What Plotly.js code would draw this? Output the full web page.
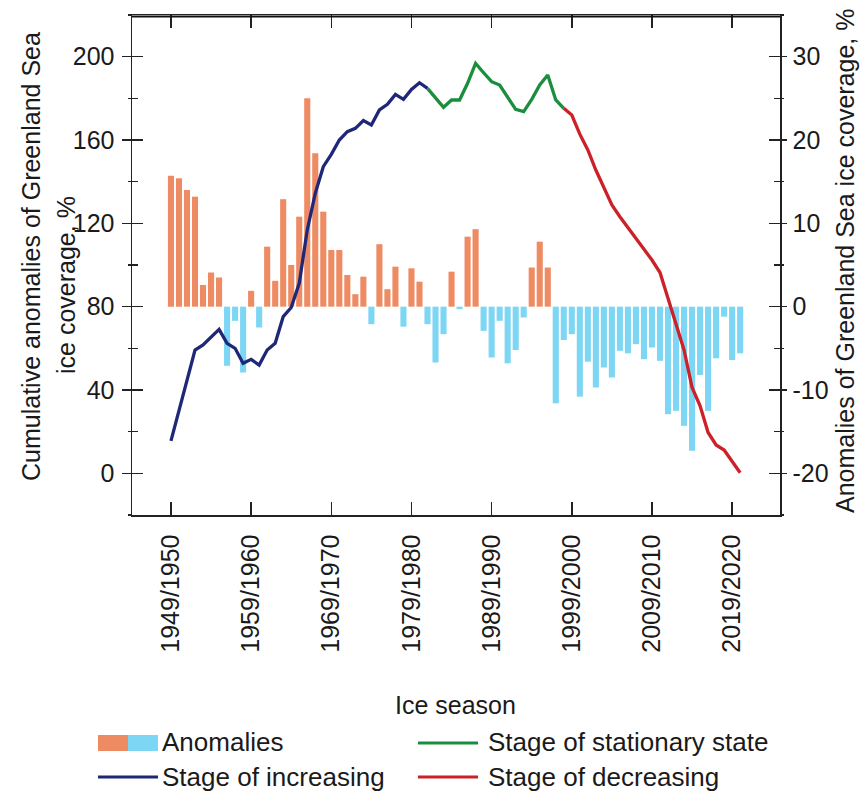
<!DOCTYPE html>
<html>
<head>
<meta charset="utf-8">
<script src="https://cdn.plot.ly/plotly-3.0.1.min.js"></script>
<style>html,body{margin:0;padding:0;background:#fff;}#chart{width:862px;height:796px;}</style>
</head>
<body>
<div id="chart"></div>
<script>
// Ice seasons
const seasons = [
 "1949/1950","1950/1951","1951/1952","1952/1953","1953/1954","1954/1955","1955/1956","1956/1957","1957/1958","1958/1959",
 "1959/1960","1960/1961","1961/1962","1962/1963","1963/1964","1964/1965","1965/1966","1966/1967","1967/1968","1968/1969",
 "1969/1970","1970/1971","1971/1972","1972/1973","1973/1974","1974/1975","1975/1976","1976/1977","1977/1978","1978/1979",
 "1979/1980","1980/1981","1981/1982","1982/1983","1983/1984","1984/1985","1985/1986","1986/1987","1987/1988","1988/1989",
 "1989/1990","1990/1991","1991/1992","1992/1993","1993/1994","1994/1995","1995/1996","1996/1997","1997/1998","1998/1999",
 "1999/2000","2000/2001","2001/2002","2002/2003","2003/2004","2004/2005","2005/2006","2006/2007","2007/2008","2008/2009",
 "2009/2010","2010/2011","2011/2012","2012/2013","2013/2014","2014/2015","2015/2016","2016/2017","2017/2018","2018/2019",
 "2019/2020","2020/2021"
];

// Anomalies of Greenland Sea ice coverage, % (right axis)
const anomalies = [
 15.7, 15.4, 14.0, 13.2, 2.6, 4.1, 3.5, -7.1, -1.7, -7.9,
 1.9, -2.5, 7.2, 3.1, 12.9, 5.0, 10.8, 25.0, 18.4, 11.4,
 6.8, 6.8, 3.8, 1.5, 3.6, -2.1, 7.5, 2.1, 4.8, -2.4,
 4.6, 3.0, -2.1, -6.7, -3.3, 4.2, -0.3, 8.4, 9.3, -2.9,
 -6.1, -1.7, -6.8, -5.2, -1.3, 4.7, 7.8, 4.7, -11.6, -4.0,
 -3.3, -10.8, -6.6, -9.7, -7.3, -8.5, -5.3, -5.6, -4.5, -6.3,
 -4.9, -6.5, -12.9, -12.5, -14.3, -17.3, -8.2, -12.5, -6.2, -1.2,
 -6.4, -5.6
];

// Cumulative anomalies of Greenland Sea ice coverage, % (left axis)
const cumulative = [
 15.6, 30.0, 44.0, 59.2, 61.6, 65.3, 69.1, 62.4, 60.0, 52.8,
 54.7, 52.0, 59.2, 62.4, 75.2, 79.6, 91.2, 116.8, 134.4, 147.2,
 153.1, 160.0, 164.0, 165.6, 169.3, 167.2, 174.4, 177.1, 181.9, 179.5,
 184.3, 187.5, 184.8, 180.0, 175.7, 179.2, 179.2, 187.2, 196.8, 192.3,
 188.0, 186.4, 180.8, 174.7, 173.6, 179.5, 186.4, 191.2, 179.2, 175.2,
 172.0, 162.8, 155.2, 145.6, 137.6, 128.8, 123.2, 118.0, 112.8, 107.2,
 102.4, 96.4, 84.4, 72.0, 59.2, 41.2, 32.4, 19.6, 13.6, 11.2,
 5.6, 0.3
];

// Stage boundaries (season labels)
const stageIncreasing = ["1949/1950", "1981/1982"];
const stageStationary = ["1981/1982", "1998/1999"];
const stageDecreasing = ["1998/1999", "2020/2021"];

// Tick labels
const xTickVals = ["1949/1950","1959/1960","1969/1970","1979/1980","1989/1990","1999/2000","2009/2010","2019/2020"];
const leftTicks = [0, 40, 80, 120, 160, 200];
const rightTicks = [-20, -10, 0, 10, 20, 30];
const rightTickText = ["-20", "-10", "0", "10", "20", "30"];

const colPos = "#EE8B63", colNeg = "#7DD6F4";
const colInc = "#1F2878", colSta = "#1B8E3E", colDec = "#CC2129";
const FONT = "Liberation Sans, Arial, Helvetica, sans-serif";
const TXT = "#1a1a1a";
const AX = "#222222";

function seg(range) {
  const a = seasons.indexOf(range[0]), b = seasons.indexOf(range[1]);
  return { x: seasons.slice(a, b + 1), y: cumulative.slice(a, b + 1) };
}

const traces = [
  { type: "bar", x: seasons, y: anomalies, yaxis: "y", width: 0.76,
    marker: { color: anomalies.map(v => v >= 0 ? colPos : colNeg), line: { width: 0 } },
    name: "Anomalies", showlegend: false, hoverinfo: "x+y" },
  Object.assign({ type: "scatter", mode: "lines", yaxis: "y2", name: "Stage of increasing",
    line: { color: colInc, width: 3.3 }, showlegend: false }, seg(stageIncreasing)),
  Object.assign({ type: "scatter", mode: "lines", yaxis: "y2", name: "Stage of stationary state",
    line: { color: colSta, width: 3.3 }, showlegend: false }, seg(stageStationary)),
  Object.assign({ type: "scatter", mode: "lines", yaxis: "y2", name: "Stage of decreasing",
    line: { color: colDec, width: 3.3 }, showlegend: false }, seg(stageDecreasing)),
  { type: "scatter", mode: "lines", x: [], y: [], yaxis: "y3", showlegend: false, hoverinfo: "skip" },
  { type: "scatter", mode: "lines", x: [], y: [], yaxis: "y4", showlegend: false, hoverinfo: "skip" }
];

const W = 862, H = 796, L = 132, R = 82, T = 15, B = 281;
const pw = W - L - R, ph = H - T - B;
const px = v => (v - L) / pw;           // pixel x -> paper
const py = v => (H - B - v) / ph;       // pixel y -> paper

const layout = {
  width: W, height: H,
  margin: { l: L, r: R, t: T, b: B, pad: 0 },
  paper_bgcolor: "#fff", plot_bgcolor: "#fff",
  font: { family: FONT, size: 25, color: TXT },
  showlegend: false,
  bargap: 0.2,
  xaxis: {
    type: "category", range: [-4.86, 75.97], autorange: false,
    tickmode: "array", tickvals: xTickVals, ticktext: xTickVals,
    ticks: "inside", ticklen: 13, tickwidth: 1.5, tickcolor: AX,
    tickangle: -90, tickfont: { size: 25, color: TXT }, ticklabelstandoff: 8,
    showline: true, linecolor: AX, linewidth: 1.5, mirror: "all",
    showgrid: false, zeroline: false
  },
  yaxis: {
    side: "right", range: [-25, 35], autorange: false,
    tickmode: "array", tickvals: rightTicks, ticktext: rightTickText,
    ticks: "outside", ticklen: 5, tickwidth: 1.5, tickcolor: AX,
    minor: { tickmode: "linear", tick0: 0, dtick: 5, ticks: "outside", ticklen: 2, tickwidth: 1.2, tickcolor: AX },
    tickfont: { size: 25, color: TXT }, ticklabelstandoff: 1,
    showline: true, linecolor: AX, linewidth: 1.5,
    showgrid: false, zeroline: false
  },
  yaxis2: {
    overlaying: "y", side: "left", anchor: "x", range: [-20, 220], autorange: false,
    tickmode: "array", tickvals: leftTicks,
    ticks: "outside", ticklen: 9, tickwidth: 1.5, tickcolor: AX,
    minor: { tickmode: "linear", tick0: 0, dtick: 20, ticks: "outside", ticklen: 3, tickwidth: 1.2, tickcolor: AX },
    tickfont: { size: 25, color: TXT }, ticklabelstandoff: 2,
    showline: true, linecolor: AX, linewidth: 1.5,
    showgrid: false, zeroline: false
  },
  yaxis3: {
    overlaying: "y", side: "left", anchor: "x", range: [-20, 220], autorange: false,
    tickmode: "array", tickvals: leftTicks, showticklabels: false,
    ticks: "inside", ticklen: 11, tickwidth: 1.5, tickcolor: AX,
    minor: { tickmode: "linear", tick0: 0, dtick: 20, ticks: "inside", ticklen: 6, tickwidth: 1.2, tickcolor: AX },
    showline: false, showgrid: false, zeroline: false
  },
  yaxis4: {
    overlaying: "y", side: "right", anchor: "x", range: [-25, 35], autorange: false,
    tickmode: "array", tickvals: rightTicks, showticklabels: false,
    ticks: "inside", ticklen: 11, tickwidth: 1.5, tickcolor: AX,
    minor: { tickmode: "linear", tick0: 0, dtick: 5, ticks: "inside", ticklen: 6, tickwidth: 1.2, tickcolor: AX },
    showline: false, showgrid: false, zeroline: false
  },
  annotations: [
    { text: "Cumulative anomalies of Greenland Sea", textangle: -90, xref: "paper", yref: "paper",
      x: px(31), y: py(257), xanchor: "center", yanchor: "middle", showarrow: false, font: { size: 25, color: TXT } },
    { text: "ice coverage, %", textangle: -90, xref: "paper", yref: "paper",
      x: px(66), y: py(285), xanchor: "center", yanchor: "middle", showarrow: false, font: { size: 25, color: TXT } },
    { text: "Anomalies of Greenland Sea ice coverage, %", textangle: -90, xref: "paper", yref: "paper",
      x: px(845), y: py(261), xanchor: "center", yanchor: "middle", showarrow: false, font: { size: 25, color: TXT } },
    { text: "Ice season", xref: "paper", yref: "paper",
      x: px(455), y: py(705), xanchor: "center", yanchor: "middle", showarrow: false, font: { size: 25, color: TXT } },
    { text: "Anomalies", xref: "paper", yref: "paper",
      x: px(160), y: py(742), xanchor: "left", yanchor: "middle", showarrow: false, font: { size: 26, color: TXT } },
    { text: "Stage of stationary state", xref: "paper", yref: "paper",
      x: px(486), y: py(742), xanchor: "left", yanchor: "middle", showarrow: false, font: { size: 26, color: TXT } },
    { text: "Stage of increasing", xref: "paper", yref: "paper",
      x: px(160), y: py(777), xanchor: "left", yanchor: "middle", showarrow: false, font: { size: 26, color: TXT } },
    { text: "Stage of decreasing", xref: "paper", yref: "paper",
      x: px(486), y: py(777), xanchor: "left", yanchor: "middle", showarrow: false, font: { size: 26, color: TXT } }
  ],
  shapes: [
    { type: "line", xref: "paper", yref: "paper", x0: 0, x1: 1, y0: 0.997, y1: 0.997, line: { color: "#111111", width: 2 } },
    { type: "rect", xref: "paper", yref: "paper", x0: px(98), x1: px(128), y0: py(751), y1: py(735), fillcolor: colPos, line: { width: 0 } },
    { type: "rect", xref: "paper", yref: "paper", x0: px(128), x1: px(158), y0: py(751), y1: py(735), fillcolor: colNeg, line: { width: 0 } },
    { type: "line", xref: "paper", yref: "paper", x0: px(418), x1: px(478), y0: py(743), y1: py(743), line: { color: colSta, width: 3 } },
    { type: "line", xref: "paper", yref: "paper", x0: px(98), x1: px(158), y0: py(777), y1: py(777), line: { color: colInc, width: 3 } },
    { type: "line", xref: "paper", yref: "paper", x0: px(418), x1: px(478), y0: py(777), y1: py(777), line: { color: colDec, width: 3 } }
  ]
};

Plotly.newPlot("chart", traces, layout, { displayModeBar: false, staticPlot: true });
</script>
</body>
</html>
